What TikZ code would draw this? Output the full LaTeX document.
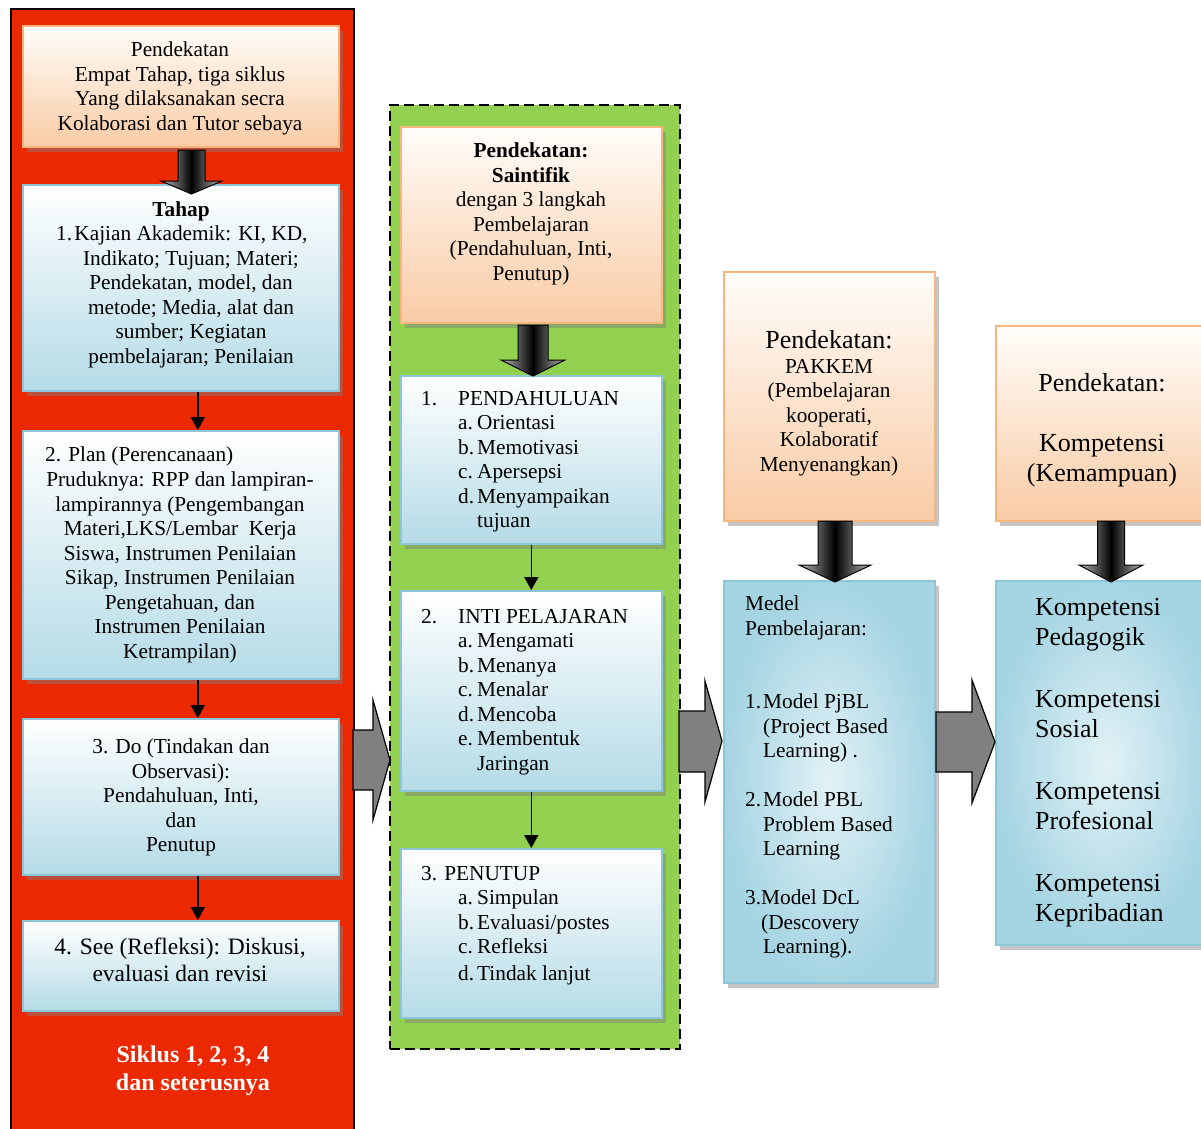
\documentclass[tikz,border=0pt]{standalone}
\usepackage{fontspec}
\setmainfont{Liberation Serif}
\usetikzlibrary{arrows.meta,shadows}
\definecolor{redbg}{RGB}{236,40,0}
\definecolor{greenbg}{RGB}{146,208,80}
\definecolor{orTop}{RGB}{255,253,250}
\definecolor{orBot}{RGB}{249,203,165}
\definecolor{orBorder}{RGB}{247,182,125}
\definecolor{blBot}{RGB}{180,219,231}
\definecolor{blBorder}{RGB}{140,198,216}
\definecolor{mtIn}{RGB}{226,242,247}
\definecolor{mtOut}{RGB}{165,212,226}
\definecolor{grayarr}{RGB}{128,128,128}
\newcommand\fsN{\fontsize{21.3}{24.5}\selectfont}
\newcommand\fsL{\fontsize{26}{30}\selectfont}
\newcommand\fsS{\fontsize{23.5}{27}\selectfont}
\newcommand\fsB{\fontsize{24}{28}\selectfont}
\newcommand\mkbox[6]{\node[#2, minimum width=#5pt, minimum height=#6pt] (#1) at (#3,#4) {};}
\newcommand\darkdown[6]{\path[darkarr] ({#1-#5},#2) -- ({#1+#5},#2) -- ({#1+#5},#3) -- ({#1+#6},#3) -- (#1,#4) -- ({#1-#6},#3) -- ({#1-#5},#3) -- cycle;}
\newcommand\grayright[8]{\path[grayblk] (#1,#2) -- (#4,#2) -- (#4,#5) -- (#7,#8) -- (#4,#6) -- (#4,#3) -- (#1,#3) -- cycle;}
\begin{document}
\begin{tikzpicture}[x=1pt,y=-1pt,
  box/.style={draw, line width=1.6pt, inner sep=0pt, anchor=north west,
    drop shadow={opacity=0.45, shadow xshift=4pt, shadow yshift=-5pt}},
  orangebox/.style={box, draw=orBorder, top color=orTop, bottom color=orBot},
  bluebox/.style={box, draw=blBorder, top color=white, bottom color=blBot},
  mottled/.style={box, draw=blBorder, inner color=mtIn, outer color=mtOut},
  txt/.style={inner sep=0pt, font=\fsN},
  thinarr/.style={line width=1.5pt, -{Triangle[length=13pt,width=14pt]}},
  darkarr/.style={draw=black, line width=1pt, left color=gray!55, right color=gray!55, middle color=black},
  grayblk/.style={draw=black, line width=1.2pt, fill=grayarr}]
\useasboundingbox (0,0) rectangle (1201,1128);
\fill[white] (0,0) rectangle (1201,1128);
% panels
\node[draw=black, line width=1.5pt, fill=redbg, anchor=north west, inner sep=0pt,
  minimum width=343pt, minimum height=1140pt] (redpanel) at (10,8) {};
\node[draw=black, line width=1.8pt, dash pattern=on 10pt off 5pt, fill=greenbg, anchor=north west, inner sep=0pt,
  minimum width=290pt, minimum height=944pt] (greenpanel) at (389,104) {};
% boxes
\mkbox{pendA}{orangebox}{22}{25}{316}{121}
\mkbox{tahap}{bluebox}{22}{184}{316}{206}
\mkbox{plan}{bluebox}{22}{430}{316}{248}
\mkbox{doB}{bluebox}{22}{718}{316}{156}
\mkbox{see}{bluebox}{22}{920}{316}{90}
\mkbox{saint}{orangebox}{400}{126}{261}{196}
\mkbox{pend}{bluebox}{400}{375}{261}{168}
\mkbox{inti}{bluebox}{400}{590}{261}{200}
\mkbox{penut}{bluebox}{400}{848}{261}{169}
\mkbox{pakkem}{orangebox}{723}{271}{211}{249}
\mkbox{medel}{mottled}{723}{580}{211}{402}
\mkbox{kompP}{orangebox}{995}{325}{220}{195}
\mkbox{kompL}{mottled}{995}{580}{220}{364}
% thin arrows
\draw[thinarr] ([xshift=17pt]tahap.south) -- ([xshift=17pt]plan.north);
\draw[thinarr] ([xshift=17pt]plan.south) -- ([xshift=17pt]doB.north);
\draw[thinarr] ([xshift=17pt]doB.south) -- ([xshift=17pt]see.north);
\draw[thinarr] (pend.south) -- (inti.north);
\draw[thinarr] (inti.south) -- (penut.north);
% dark block arrows
\darkdown{191.5}{150}{181}{194}{13.5}{30.5}
\darkdown{533}{325}{360}{376}{15}{32}
\darkdown{835}{521}{565}{582}{17}{36}
\darkdown{1111}{521}{565}{582}{13.5}{32}
% gray block arrows
\grayright{353}{730}{790}{373}{700}{820}{390}{760}
\grayright{679}{711}{772}{705}{681}{802}{722}{741}
\grayright{936}{712}{772}{972}{680}{803}{995}{742}
% texts: left column
\node[txt, anchor=north, align=center] (tA) at (180,42)
  {Pendekatan\\Empat Tahap, tiga siklus\\Yang dilaksanakan secra\\Kolaborasi dan Tutor sebaya};
\node[txt, anchor=north] (tTahap) at (181,202) {\textbf{Tahap}};
\node[txt, anchor=north west] (tT1) at (56,226) {1.};
\node[txt, anchor=north, align=center] (tTahapL) at (191,226)
  {Kajian Akademik: KI, KD,\\Indikato; Tujuan; Materi;\\Pendekatan, model, dan\\metode; Media, alat dan\\sumber; Kegiatan\\pembelajaran; Penilaian};
\node[txt, anchor=north west] (tPlan1) at (45,447) {2. Plan (Perencanaan)};
\node[txt, anchor=north, align=center] (tPlan) at (180,472)
  {Pruduknya: RPP dan lampiran-\\lampirannya (Pengembangan\\Materi,LKS/Lembar\ \ Kerja\\Siswa, Instrumen Penilaian\\Sikap, Instrumen Penilaian\\Pengetahuan, dan\\Instrumen Penilaian\\Ketrampilan)};
\node[txt, anchor=north, align=center] (tDo) at (181,739)
  {3. Do (Tindakan dan\\Observasi):\\Pendahuluan, Inti,\\dan\\Penutup};
\node[txt, font=\fsS, anchor=north, align=center] (tSee) at (180,938)
  {4. See (Refleksi): Diskusi,\\evaluasi dan revisi};
\node[txt, font=\fsB\bfseries, text=white, anchor=north, align=center] (tSik) at (193,1046)
  {Siklus 1, 2, 3, 4\\dan seterusnya};
% middle column
\node[txt, anchor=north, align=center] (tSaint) at (531,143)
  {\textbf{Pendekatan:}\\\textbf{Saintifik}\\dengan 3 langkah\\Pembelajaran\\(Pendahuluan, Inti,\\Penutup)};
\node[txt, anchor=north west, align=left] (tPend) at (421,391)
  {\makebox[37pt][l]{1.}PENDAHULUAN\\
   \hspace*{37pt}\makebox[19pt][l]{a.}Orientasi\\
   \hspace*{37pt}\makebox[19pt][l]{b.}Memotivasi\\
   \hspace*{37pt}\makebox[19pt][l]{c.}Apersepsi\\
   \hspace*{37pt}\makebox[19pt][l]{d.}Menyampaikan\\
   \hspace*{56pt}tujuan};
\node[txt, anchor=north west, align=left] (tInti) at (421,609)
  {\makebox[37pt][l]{2.}INTI PELAJARAN\\
   \hspace*{37pt}\makebox[19pt][l]{a.}Mengamati\\
   \hspace*{37pt}\makebox[19pt][l]{b.}Menanya\\
   \hspace*{37pt}\makebox[19pt][l]{c.}Menalar\\
   \hspace*{37pt}\makebox[19pt][l]{d.}Mencoba\\
   \hspace*{37pt}\makebox[19pt][l]{e.}Membentuk\\
   \hspace*{56pt}Jaringan};
\node[txt, anchor=north west, align=left] (tPenut) at (421,866)
  {3. PENUTUP\\
   \hspace*{37pt}\makebox[19pt][l]{a.}Simpulan\\
   \hspace*{37pt}\makebox[19pt][l]{b.}Evaluasi/postes\\
   \hspace*{37pt}\makebox[19pt][l]{c.}Refleksi\\[2pt]
   \hspace*{37pt}\makebox[19pt][l]{d.}Tindak lanjut};
% right columns
\node[txt, font=\fsL, anchor=north] (tPak1) at (829,330) {Pendekatan:};
\node[txt, anchor=north, align=center] (tPak2) at (829,359)
  {PAKKEM\\(Pembelajaran\\kooperati,\\Kolaboratif\\Menyenangkan)};
\node[txt, anchor=north west, align=left] (tMedel) at (745,596)
  {Medel\\Pembelajaran:\\[49pt]
   \makebox[18pt][l]{1.}Model PjBL\\
   \hspace*{18pt}(Project Based\\
   \hspace*{18pt}Learning) .\\[24.5pt]
   \makebox[18pt][l]{2.}Model PBL\\
   \hspace*{18pt}Problem Based\\
   \hspace*{18pt}Learning\\[24.5pt]
   3.Model DcL\\
   \hspace*{16pt}(Descovery\\
   \hspace*{18pt}Learning).};
\node[txt, font=\fsL, anchor=north] (tKp1) at (1102,373) {Pendekatan:};
\node[txt, font=\fsL, anchor=north, align=center] (tKp2) at (1102,434) {Kompetensi\\(Kemampuan)};
\node[txt, font=\fsL, anchor=north west, align=left] (tKl) at (1035,598)
  {Kompetensi\\Pedagogik\\[32pt]Kompetensi\\Sosial\\[32pt]Kompetensi\\Profesional\\[32pt]Kompetensi\\Kepribadian};
\end{tikzpicture}
\end{document}
